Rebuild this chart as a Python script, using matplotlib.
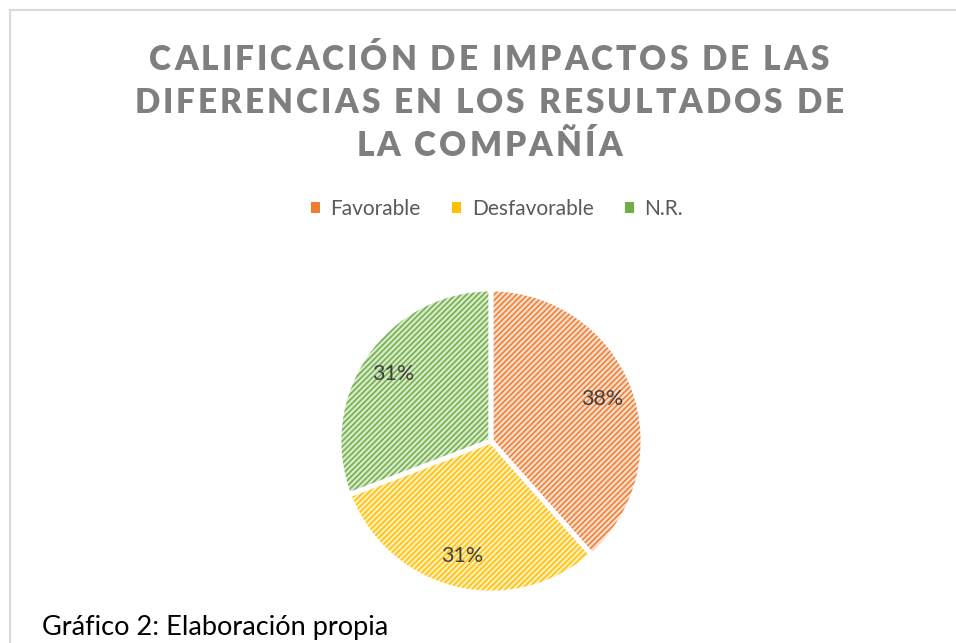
import matplotlib.pyplot as plt
from matplotlib.patches import Rectangle
from matplotlib.lines import Line2D

categorias = ['Favorable', 'Desfavorable', 'N.R.']
valores = [5, 4, 4]
titulo = ['CALIFICACIÓN DE IMPACTOS DE LAS',
          'DIFERENCIAS EN LOS RESULTADOS DE',
          'LA COMPAÑÍA']
pie_texto = 'Gráfico 2: Elaboración propia'

color_fuerte = ['#ED7D31', '#FFC000', '#70AD47']
color_suave = ['#FADCC8', '#FFEDB8', '#D5E8C8']

plt.rcParams['font.family'] = ['Lato', 'DejaVu Sans']
plt.rcParams['hatch.linewidth'] = 1.1

W, H = 956, 643
fig = plt.figure(figsize=(W / 100, H / 100), dpi=100)

# marco gris del gráfico
fig.add_artist(Line2D([10 / W, 10 / W], [0, 1 - 10 / H], color='#D9D9D9', lw=1.5))
fig.add_artist(Line2D([10 / W, 1], [1 - 10 / H, 1 - 10 / H], color='#D9D9D9', lw=1.5))

# titulo con espaciado entre letras
renderer = fig.canvas.get_renderer()
def texto_espaciado(s, xc, y, size, espacio):
    anchos = []
    for c in s:
        t = fig.text(0, 0, c if c != ' ' else 'I', fontsize=size, fontweight='heavy')
        w = t.get_window_extent(renderer).width
        t.remove()
        anchos.append(w * (0.75 if c == ' ' else 1.0))
    total = sum(anchos) + espacio * (len(s) - 1)
    x = xc - total / 2
    for c, w in zip(s, anchos):
        if c != ' ':
            fig.text(x / W, 1 - y / H, c, fontsize=size, fontweight='heavy',
                     color='#7F7F7F', va='center', ha='left')
        x += w + espacio

for linea, y in zip(titulo, [60, 103, 146]):
    texto_espaciado(linea, 489, y, 24, 3.0)

# torta
cx, cy, r = 491, 441, 152
ax = fig.add_axes([(cx - r) / W, (H - cy - r) / H, 2 * r / W, 2 * r / H])
ax.pie(valores, colors=color_suave, startangle=90, counterclock=False,
       wedgeprops=dict(linewidth=0))
cuñas, _ = ax.pie(valores, colors=['none'] * 3, startangle=90, counterclock=False,
                  wedgeprops=dict(linewidth=0))
for w, c in zip(cuñas, color_fuerte):
    w.set_hatch('//////')
    w.set_edgecolor(c)
    w.set_facecolor('none')
_, _, pct = ax.pie(valores, colors=['none'] * 3, startangle=90, counterclock=False,
                   autopct='%1.0f%%', pctdistance=0.78,
                   wedgeprops=dict(linewidth=3.5, edgecolor='white'),
                   textprops=dict(fontsize=15.5, color='#404040'))
ax.set_xlim(-1, 1)
ax.set_ylim(-1, 1)
ax.set_aspect('equal')

# leyenda
manijas = [Rectangle((0, 0), 1, 1, facecolor=c, edgecolor='none') for c in color_fuerte]
fig.legend(manijas, categorias, loc='center', bbox_to_anchor=(497 / W, 1 - 209 / H),
           ncol=3, frameon=False, fontsize=15, handlelength=0.45, handleheight=0.45,
           handletextpad=0.5, columnspacing=1.5, labelcolor='#595959')

fig.text(42 / W, 1 - 627 / H, pie_texto, fontsize=19.5, color='#000000', va='center')

fig.savefig('out.png', dpi=100, facecolor='white')
